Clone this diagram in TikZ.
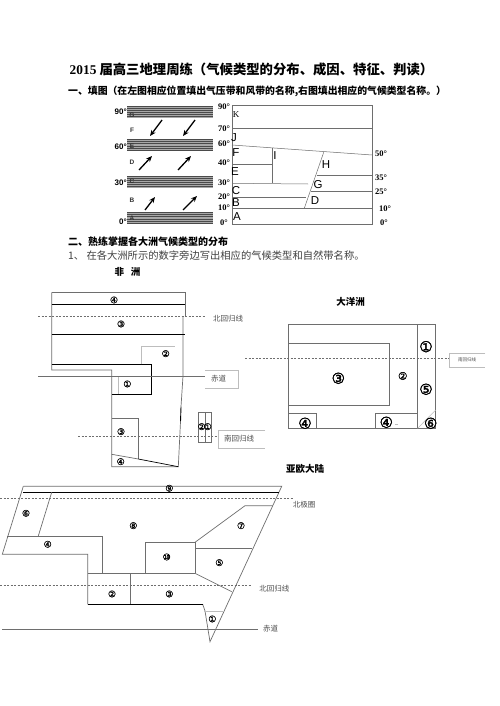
\documentclass[tikz,border=0pt]{standalone}
\usepackage{xcolor}
\usepackage{fontspec}
\setmainfont{Noto Sans CJK SC}
\newfontfamily\latinserif{Liberation Serif}
\newfontfamily\latinsans{Liberation Sans}
\newfontfamily\circfont[FakeBold=1.2]{DejaVu Sans}
\newfontfamily\bigcircfont[FakeBold=2]{DejaVu Sans}
\usetikzlibrary{positioning,arrows.meta}
\definecolor{mapline}{HTML}{6E6E6E}
\definecolor{tagline}{HTML}{BDBDBD}
\definecolor{bandline}{HTML}{4A4A4A}
\definecolor{bandfill}{HTML}{A8A8A8}

\begin{document}
\begin{tikzpicture}[
        x=1pt,
        y=-1pt,
        inner sep=0pt,
        headline/.style={font=\bfseries\fontsize{9.85}{10}\selectfont, anchor=west},
        plainline/.style={font=\fontsize{10.3}{10}\selectfont, anchor=west, text=black!75},
        landname/.style={font=\bfseries\fontsize{9.5}{10}\selectfont},
        linename/.style={font=\fontsize{7.5}{8}\selectfont, text=black!70},
        latmark/.style={font=\latinserif\bfseries\fontsize{8.5}{8}\selectfont},
        zonemark/.style={font=\latinsans\fontsize{11.5}{10}\selectfont},
        bandmark/.style={font=\latinsans\bfseries\fontsize{6.5}{7}\selectfont, text=black!80},
        num/.style={font=\circfont\fontsize{9}{9}\selectfont},
        bignum/.style={font=\bigcircfont\fontsize{15}{15}\selectfont},
        outline/.style={draw=mapline, line width=0.7pt},
        heavy/.style={draw=black, line width=0.9pt},
        tropic/.style={draw=mapline, dash pattern=on 2pt off 1.5pt, line width=0.5pt},
        tag/.style={draw=tagline, line width=0.6pt},
        wind/.style={-{Stealth[length=6pt,width=5pt]}, line width=1.3pt}
    ]

    \useasboundingbox (0,0) rectangle (500,706);
    \fill[white] (0,0) rectangle (500,706);

    % headings
    \node[font=\bfseries\fontsize{13.35}{14}\selectfont] (title) at (251.5,69) {{\latinserif\bfseries 2015} 届高三地理周练（气候类型的分布、成因、特征、判读）};
    \node[headline] (task1) at (68,91) {一、填图（在左图相应位置填出气压带和风带的名称,右图填出相应的气候类型名称。）};
    \node[headline, font=\bfseries\fontsize{10}{10}\selectfont] (task2) at (68,242) {二、熟练掌握各大洲气候类型的分布};
    \node[plainline] (task2a) at (68,256) {1、 在各大洲所示的数字旁边写出相应的气候类型和自然带名称。};
    \node[landname] (africa) at (127.5,272) {非\hspace{0.7em}洲};
    \node[landname] (oceania) at (350.5,302) {大洋洲};
    \node[landname] (eurasia) at (305,469) {亚欧大陆};

    % pressure belts, left chart
    \foreach \bandtop in {105.7,139,175.5,212} {
        \fill[bandfill] (127,\bandtop) rectangle (213,\bandtop+12);
        \foreach \k in {0,...,5} {
            \draw[bandline, line width=0.9pt] (127,\bandtop+0.7+\k*2.1) -- (213,\bandtop+0.7+\k*2.1);
        }
    }
    \draw[wind] (162,120) -- (150,136);
    \draw[wind] (195,120) -- (183,136);
    \draw[wind] (139,170) -- (152,156);
    \draw[wind] (178,170) -- (191,156);
    \draw[wind] (145,210) -- (155,197);
    \draw[wind] (183,210) -- (197,196);

    \foreach \name/\ypos in {G/115,F/130,E/146,D/162,C/181,B/200,A/218}
        \node[bandmark] (belt\name) at (132,\ypos) {\name};
    \foreach \name/\lat/\ypos in {a/90/112,b/60/147,c/30/183,d/0/222}
        \node[latmark, anchor=east, font=\latinsans\bfseries\fontsize{8}{8}\selectfont] (belt\name) at (127,\ypos) {\lat\textdegree};

    % climate types, right chart
    \draw[outline, line width=0.6pt] (232,105) rectangle (372,224);
    \draw[outline, line width=0.5pt] (232,128) -- (372,128);
    \draw[outline, line width=0.5pt] (232,145) -- (372,155);
    \draw[outline, line width=0.5pt] (272,148) -- (272,183);
    \draw[outline, line width=0.5pt] (232,164) -- (272,164);
    \draw[outline, line width=0.5pt] (232,183.3) -- (308,184);
    \draw[outline, line width=0.5pt] (323.7,152.3) -- (304.3,208.3);
    \draw[outline, line width=0.5pt] (316.7,175.3) -- (372,175.3);
    \draw[outline, line width=0.5pt] (311,191.7) -- (372,191.7);
    \draw[outline, line width=0.5pt] (232,197.3) -- (306,197.3);
    \draw[outline, line width=0.5pt] (232,208.3) -- (372,208.3);

    \node[latmark, font=\latinserif\fontsize{9}{9}\selectfont] (typeK) at (236,115) {K};
    \foreach \name/\xpos/\ypos in {J/234/138,F/236/153,E/235/172,C/236/191,B/236/203,A/237/217,I/275/156,H/326/165,G/318/185,D/315/201}
        \node[zonemark] (type\name) at (\xpos,\ypos) {\name};
    \foreach \lat/\ypos in {90/107,70/129,60/144,40/163,30/183,20/197,10/208,0/223}
        \node[latmark] (west\lat) at (224,\ypos) {\lat\textdegree};
    \foreach \lat/\xpos/\ypos in {50/381/154,35/381/178,25/381/192,10/385/209,0/384/223}
        \node[latmark] (east\lat) at (\xpos,\ypos) {\lat\textdegree};

    % Africa
    \draw[outline] (51.7,292.3) -- (185,292.3) -- (185,316);
    \draw[outline] (183,316) -- (183,376) -- (181,406.7);
    \draw[heavy] (181,406.7) -- (180.5,421.7);
    \draw[outline] (180.5,421.7) -- (178.3,466.7) -- (111.7,466.7) -- (111.7,370) -- (51.7,370) -- (51.7,292.3);
    \draw[heavy] (51.7,304.3) -- (185,304.3);
    \draw[heavy] (51.7,334.3) -- (185,334.3);
    \draw[heavy] (51.7,364.3) -- (151.7,364.3) -- (151.7,394) -- (111.7,394);
    \draw[tag] (141.7,364.3) -- (141.7,346.7) -- (175,346.7);
    \draw[tag] (118.3,376) -- (118.3,394);
    \draw[outline, line width=0.5pt] (111.7,418.3) -- (138.3,418.3) -- (138.3,459);
    \draw[outline] (111.7,454.3) -- (138.3,459);
    \draw[heavy, line width=0.7pt] (138.3,459) -- (178.3,466.7);
    \draw[tropic] (38,316) -- (205,316);
    \draw[tropic] (78,436.7) -- (218,436.7);
    \draw[mapline, line width=0.5pt] (38,376) -- (205,376);
    \draw[outline, line width=0.5pt] (198.3,412.3) rectangle (211.7,442.3);
    \draw[outline, line width=0.5pt] (205,412.3) -- (205,442.3);
    \draw[tag] (205,370) -- (238,370) -- (238,388) -- (205,388);
    \draw[tag] (265,430) -- (218,430) -- (218,448) -- (265,448);
    \node[linename] (africaN) at (228,319) {北回归线};
    \node[linename] (africaEq) at (218.7,379) {赤道};
    \node[linename] (africaS) at (239,439) {南回归线};
    \foreach \lab/\xpos/\ypos [count=\i] in {④/114/300,③/121/324,②/165.7/353.7,①/127.3/384,③/121/431.7,④/120.7/461.7,②/201.7/426.7,①/207.7/426.7}
        \node[num] (africa\i) at (\xpos,\ypos) {\lab};

    % Oceania
    \draw[outline, line width=0.6pt] (288.3,324.3) rectangle (435.7,428.3);
    \draw[outline, line width=0.6pt] (288.3,343.3) rectangle (389.7,405.7);
    \draw[outline, line width=0.6pt] (417.7,324.3) -- (417.7,428.3);
    \draw[outline, line width=0.6pt] (288.3,413.3) -- (316.3,413.3) -- (316.3,428.3);
    \draw[outline, line width=0.6pt] (375.7,428.3) -- (375.7,413.3) -- (417.7,413.3);
    \draw[tag] (417.7,428.3) -- (435.7,410);
    \draw[tag] (395,424.3) -- (398,424.3);
    \draw[tropic] (245,358.3) -- (449,358.3);
    \draw[tag] (485,353) -- (449.5,353) -- (449.5,367) -- (485,367);
    \node[font=\fontsize{4.5}{5}\selectfont, text=black!70] (oceaniaS) at (467,360) {南回归线};
    \foreach \lab/\xpos/\ypos [count=\i] in {①/426/346.7,⑤/426/389.3,③/338.3/378.3,④/305/423.3,④/386.3/422.3,⑥/430.7/423.3}
        \node[bignum] (oceania\i) at (\xpos,\ypos) {\lab};
    \node[num, font=\circfont\fontsize{10.5}{10}\selectfont] (oceania7) at (402.7,376) {②};

    % Eurasia
    \draw[outline] (23.3,486.3) -- (281.7,486.3) -- (210,641.7) -- (205,611) -- (202.7,604.3);
    \draw[outline] (23.3,486.3) -- (2.3,554.3) -- (87.7,554.3) -- (87.7,604.3);
    \draw[heavy] (87.7,604.3) -- (202.7,604.3);
    \draw[heavy] (23,492.3) -- (279,492.3);
    \draw[outline] (51.7,492.3) -- (38.3,536);
    \draw[outline] (7.3,536) -- (102.7,536) -- (102.7,573.3);
    \draw[outline] (87.7,573.3) -- (195,573.3);
    \draw[outline] (130.3,573.3) -- (130.3,604.3);
    \draw[outline] (145.3,573.3) -- (145.3,542.3) -- (195,542.3) -- (195,573.3);
    \draw[outline] (195,542.3) -- (245,505.7) -- (272.7,505.7);
    \draw[outline] (195,548.3) -- (252.3,548.3);
    \draw[outline] (195,573.3) -- (231.7,591.7);
    \draw[tag] (204,611) -- (224,611);
    \draw[tropic, line width=0.6pt] (0,498.7) -- (292.7,498.7);
    \draw[tropic, line width=0.6pt] (0,585.3) -- (251,585.3);
    \draw[mapline, line width=0.6pt] (2,629.3) -- (258.3,629.3);
    \node[linename] (eurasiaPolar) at (304,505) {北极圈};
    \node[linename] (eurasiaN) at (274.3,588.3) {北回归线};
    \node[linename] (eurasiaEq) at (270.7,629) {赤道};
    \foreach \lab/\xpos/\ypos [count=\i] in {⑨/169.3/488.3,⑥/26/513.3,④/47.7/544.3,⑧/133.3/525.7,⑩/166.7/557,②/112/594,③/169.3/594,⑦/241/525.7,⑤/219.3/562.7,①/212.3/619}
        \node[num] (eurasia\i) at (\xpos,\ypos) {\lab};

    \end{tikzpicture}
\end{document}
